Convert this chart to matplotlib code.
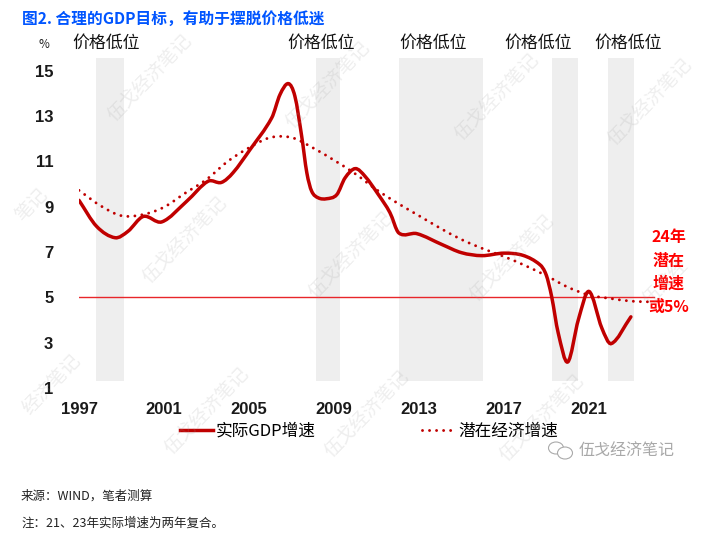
import matplotlib
matplotlib.use('Agg')
import matplotlib.pyplot as plt
from matplotlib.lines import Line2D
from matplotlib.patches import Ellipse, PathPatch
from matplotlib.path import Path
from matplotlib.transforms import Affine2D

CJK = ['Noto Sans CJK SC', 'DejaVu Sans']
NUM = ['Liberation Sans', 'Noto Sans CJK SC']
RED = '#c00000'

actual_x = [1997, 1997.83, 1998.7, 1999.3, 2000.03, 2000.9, 2002.07, 2003.07, 2003.7, 2004.25,
            2005.05, 2006.07, 2006.46, 2006.85, 2007.16, 2007.48, 2007.72, 2007.95, 2008.26,
            2008.65, 2009.13, 2009.52, 2010.0, 2010.46, 2011.09, 2011.63, 2012.05, 2012.9, 2014.08,
            2015.0, 2015.96, 2017.0, 2017.9, 2018.69, 2018.98, 2019.24, 2019.55, 2020.0,
            2020.5, 2021.0, 2021.6, 2022.05, 2022.97]
actual_gdp = [9.28, 8.13, 7.63, 7.91, 8.57, 8.33, 9.24, 10.12, 10.07, 10.5,
              11.52, 12.92, 13.95, 14.43, 13.87, 12.1, 10.5, 9.68, 9.39,
              9.35, 9.53, 10.27, 10.68, 10.34, 9.53, 8.74, 7.84, 7.81, 7.33,
              6.97, 6.84, 6.95, 6.85, 6.44, 6.0, 5.04, 3.43, 2.15,
              4.02, 5.26, 3.65, 2.96, 4.14]
potential_x = list(range(1997, 2025))
potential_gdp = [9.72, 9.05, 8.6, 8.65, 8.98, 9.6, 10.2, 11.0, 11.6, 12.05, 12.05, 11.6, 11.05, 10.45,
                 9.75, 9.15, 8.6, 8.05, 7.55, 7.15, 6.8, 6.4, 5.95, 5.45, 5.1, 4.95, 4.83, 4.8]
low_price_periods = [(1997.8, 1999.13), (2008.15, 2009.3), (2012.06, 2016.0), (2019.26, 2020.5), (2021.9, 2023.1)]
low_price_labels = [(106, 43), (321, 43), (433, 43), (538, 43), (628, 43)]
x_ticks = [1997, 2001, 2005, 2009, 2013, 2017, 2021]
y_ticks = [1, 3, 5, 7, 9, 11, 13, 15]
watermarks = [(150, 78, '伍戈经济笔记'), (328, 85, '伍戈经济笔记'), (497, 97, '伍戈经济笔记'), (650, 102, '伍戈经济笔记'),
              (32, 205, '笔记'), (185, 240, '伍戈经济笔记'), (351, 255, '伍戈经济笔记'), (512, 258, '伍戈经济笔记'),
              (665, 282, '伍戈经'), (52, 385, '经济笔记'), (207, 411, '伍戈经济笔记'), (367, 414, '伍戈经济笔记'),
              (542, 418, '伍戈经济笔记')]


def smooth_path(x, y):
    # cubic segments through the read points, tangents from the neighbours
    n = len(x)
    slope = []
    for i in range(n):
        a, b = max(i - 1, 0), min(i + 1, n - 1)
        slope.append((y[b] - y[a]) / (x[b] - x[a]))
    verts = [(x[0], y[0])]
    codes = [Path.MOVETO]
    for i in range(n - 1):
        h = (x[i + 1] - x[i]) / 3
        verts.append((x[i] + h, y[i] + slope[i] * h))
        verts.append((x[i + 1] - h, y[i + 1] - slope[i + 1] * h))
        verts.append((x[i + 1], y[i + 1]))
        codes += [Path.CURVE4] * 3
    return Path(verts, codes)


fig = plt.figure(figsize=(7.23, 5.41), dpi=100)
W, H = 723, 541
# top-left pixel coordinates for text outside the plot
px = Affine2D().scale(1, -1).translate(0, H)

ax = fig.add_axes([79 / W, 1 - 388 / H, 581 / W, 330 / H])
ax.set_xlim(1997, 2024.34)
ax.set_ylim(1, 15.56)
for s in ax.spines.values():
    s.set_visible(False)

for start, end in low_price_periods:
    ax.fill_between([start, end], 1.33, 15.56, color='#eeeeee', lw=0, zorder=1)

ax.plot([1997, 2024.05], [5, 5], color='#e8262a', lw=1, zorder=2)
ax.add_patch(PathPatch(smooth_path(potential_x, potential_gdp), fill=False, ec=RED, lw=2.1,
                       ls=(0, (0.01, 2.4)), capstyle='round', zorder=3))
ax.add_patch(PathPatch(smooth_path(actual_x, actual_gdp), fill=False, ec=RED, lw=2.5,
                       capstyle='round', zorder=4))

ax.set_xticks(x_ticks, [str(v) for v in x_ticks], family=NUM, fontweight='bold', fontsize=12, color='#1a1a1a')
ax.set_yticks(y_ticks, [str(v) for v in y_ticks], family=NUM, fontweight='bold', fontsize=12, color='#1a1a1a')
ax.tick_params(axis='x', length=0, pad=10)
ax.tick_params(axis='y', length=0, pad=18.5)

handles = [Line2D([], [], color=RED, lw=2.5),
           Line2D([], [], color=RED, lw=2.1, ls=(0, (0.01, 2.4)), dash_capstyle='round')]
ax.legend(handles, ['实际GDP增速', '潜在经济增速'], ncol=2, frameon=False, loc='center left',
          bbox_to_anchor=(180, 431), bbox_transform=px, borderaxespad=0, borderpad=0,
          handlelength=1.95, handletextpad=0.2, columnspacing=6.4,
          prop={'family': CJK, 'size': 12})

for x, y in low_price_labels:
    fig.text(x, y, '价格低位', transform=px, family=CJK, fontsize=12.2, fontweight='medium',
             color='#111111', ha='center', va='center')
fig.text(44, 44, '%', transform=px, family=CJK, fontsize=8.5, color='#222222', ha='center', va='center')

fig.text(22, 19, '图2. 合理的GDP目标，有助于摆脱价格低迷', transform=px, family=CJK, fontsize=11.3,
         fontweight='bold', color='#0055ff', ha='left', va='center')

for y, line in zip([237, 261, 284, 307], ['24年', '潜在', '增速', '或5%']):
    fig.text(669, y, line, transform=px, family=CJK, fontsize=11.5, fontweight='bold',
             color='#ff0000', ha='center', va='center')

fig.text(21, 496, '来源：WIND，笔者测算', transform=px, family=CJK, fontsize=9, color='#222222', va='center')
fig.text(21, 523, '注：21、23年实际增速为两年复合。', transform=px, family=CJK, fontsize=9, color='#222222', va='center')

# watermark tiles, the edge ones only partly show in the picture
for x, y, label in watermarks:
    fig.text(x, y, label, transform=px, family=CJK, fontsize=13.5, color='#999999', alpha=0.17,
             rotation=46, rotation_mode='anchor', ha='center', va='center', zorder=6)

# account logo bottom right
fig.text(579, 450, '伍戈经济笔记', transform=px, family=CJK, fontsize=11.5, color='#a8a8a8', va='center')
fig.add_artist(Ellipse((556, 448), 15, 12, transform=px, fill=False, ec='#aaaaaa', lw=0.8))
fig.add_artist(Ellipse((565, 453), 15, 12, transform=px, fc='white', ec='#aaaaaa', lw=0.8))

fig.savefig('out.png', dpi=100)
